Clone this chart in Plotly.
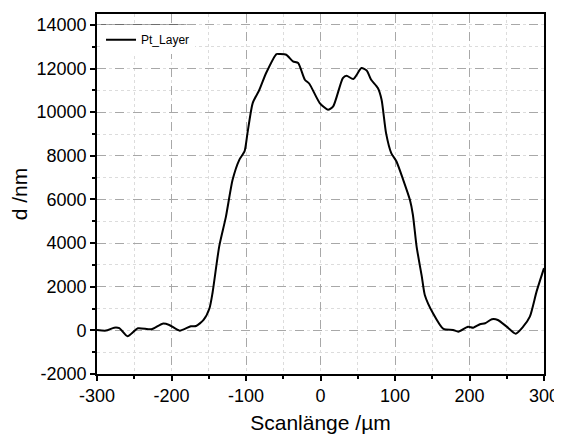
import plotly.graph_objects as go

scan_um = [-300, -288, -277, -270, -259, -245, -227, -212, -203, -189, -174, -167, -157, -149, -145,
           -136, -127, -118, -109, -102, -98, -91, -82, -73, -59, -55, -46, -37, -30, -21, -15, -1,
           10, 17, 30, 35, 44, 55, 62, 68, 77, 82, 88, 95, 102, 111, 120, 124, 129, 136, 140, 151,
           165, 178, 185, 198, 205, 214, 221, 230, 238, 250, 262, 272, 281, 290, 300]
d_nm = [18, -10, 124, 100, -270, 96, 50, 307, 248, -14, 188, 200, 477, 1014, 1702,
        3840, 5200, 6899, 7817, 8200, 9042, 10417, 11028, 11794, 12665, 12665, 12633, 12326, 12250,
        11486, 11303, 10417, 10110, 10263, 11563, 11670, 11517, 12021, 11914, 11486, 11104, 10568,
        9042, 8125, 7740, 6899, 5982, 5300, 3840, 2463, 1624, 784, 64, 18, -60, 170, 124, 280,
        325, 509, 477, 170, -151, 170, 628, 1775, 2850]

x_ticks = [-300, -200, -100, 0, 100, 200, 300]
x_tick_labels = ["-300", "-200", "-100", "0", "100", "200", "300"]
y_ticks = [-2000, 0, 2000, 4000, 6000, 8000, 10000, 12000, 14000]
y_tick_labels = ["-2000", "0", "2000", "4000", "6000", "8000", "10000", "12000", "14000"]

FONT = "Liberation Sans, Arial"

fig = go.Figure()
fig.add_trace(go.Scatter(x=scan_um, y=d_nm, mode="lines", name="Pt_Layer",
                         line=dict(color="black", width=2, shape="spline", smoothing=0.6)))

axis_common = dict(
    showline=True, linecolor="black", linewidth=1.6, mirror=True,
    ticks="outside", ticklen=5, tickwidth=1.5, tickcolor="black",
    showgrid=True, gridcolor="#a8a8a8", gridwidth=1, griddash="dash",
    zeroline=False, automargin=False,
    tickfont=dict(family=FONT, size=18, color="black"),
)

fig.update_xaxes(
    range=[-300, 300], tickmode="array", tickvals=x_ticks, ticktext=x_tick_labels,
    minor=dict(dtick=50, tick0=-300, ticks="outside", ticklen=3, tickcolor="black",
               showgrid=True, gridcolor="#dcdcdc", griddash="dot"),
    title=dict(text="Scanlänge /µm", font=dict(family=FONT, size=21, color="black"),
               standoff=10),
    **axis_common,
)
fig.update_yaxes(
    range=[-2000, 14500], tickmode="array", tickvals=y_ticks, ticktext=y_tick_labels,
    minor=dict(dtick=1000, tick0=-2000, ticks="outside", ticklen=3, tickcolor="black",
               showgrid=True, gridcolor="#dcdcdc", griddash="dot"),
    title=dict(text="d /nm", font=dict(family=FONT, size=21, color="black"),
               standoff=17),
    **axis_common,
)

fig.update_layout(
    width=554, height=429,
    margin=dict(l=89, r=18, t=6, b=63),
    plot_bgcolor="white", paper_bgcolor="white",
    showlegend=True,
    legend=dict(x=0.009, y=0.969, xanchor="left", yanchor="top",
                borderwidth=0, bgcolor="white",
                font=dict(family=FONT, size=12, color="black"),
                itemwidth=30, tracegroupgap=0),
    shapes=[
        dict(type="line", xref="paper", yref="paper", x0=0.009, x1=0.2, y0=0.969, y1=0.969,
             line=dict(color="black", width=1)),
        dict(type="line", xref="paper", yref="paper", x0=0.2, x1=0.2, y0=0.969, y1=0.918,
             line=dict(color="black", width=1)),
    ],
)

fig.write_html("out.html")
